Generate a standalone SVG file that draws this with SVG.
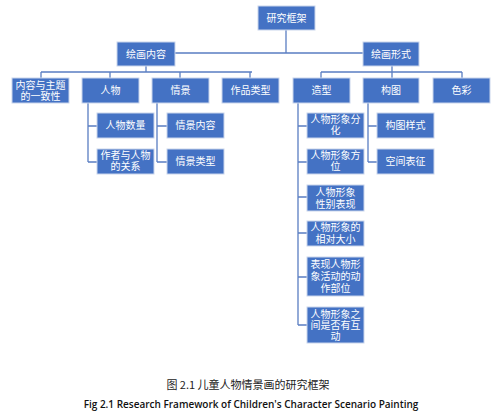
<svg xmlns="http://www.w3.org/2000/svg" width="503" height="417" viewBox="0 0 503 417">
<style>
.b{fill:#4472C4;stroke:#C9D5EC;stroke-width:1}
.t{fill:#fff;font-family:"Noto Sans CJK SC","Noto Sans CJK JP",serif;font-size:10px;text-anchor:middle}
.c{fill:none;stroke:#5A7EC2;stroke-width:1.3}
.cap{font-family:"Noto Sans CJK SC",serif;font-size:11px;fill:#222;text-anchor:middle}
.capE{font-family:"Open Sans","Liberation Sans",sans-serif;font-size:10px;fill:#111;text-anchor:middle;font-weight:600}
</style>
<rect width="503" height="417" fill="#fff"/>
<g id="connectors">
<path class="c" d="M286,30V53M175,53H363"/>
<path class="c" d="M146,66V72M41,72H252M41,72V78M110,72V78M180,72V78M250,72V78"/>
<path class="c" d="M392,66V72M321,72H462M321,72V78M392,72V78M462,72V78"/>
<path class="c" d="M88,103V162M88,126H97M88,162H97"/>
<path class="c" d="M157,103V162M157,126H167M157,162H167"/>
<path class="c" d="M298,103V325M298,126H307M298,162H307M298,197H307M298,233H307M298,277H307M298,325H307"/>
<path class="c" d="M368,103V162M368,126H377M368,162H377"/>
</g>
<g id="root"><rect class="b" x="258" y="6" width="57" height="24"/><text class="t" x="286.5" y="22">研究框架</text></g>
<g id="content"><rect class="b" x="117" y="42" width="58" height="24"/><text class="t" x="146" y="58">绘画内容</text></g>
<g id="form"><rect class="b" x="363" y="42" width="56" height="24"/><text class="t" x="391" y="58">绘画形式</text></g>
<g id="theme"><rect class="b" x="12" y="78" width="57" height="25"/><text class="t" x="40.5" y="89">内容与主题<tspan x="40.5" dy="11">的一致性</tspan></text></g>
<g id="person"><rect class="b" x="82" y="78" width="57" height="25"/><text class="t" x="110.5" y="94">人物</text></g>
<g id="scene"><rect class="b" x="152" y="78" width="57" height="25"/><text class="t" x="180.5" y="94">情景</text></g>
<g id="worktype"><rect class="b" x="222" y="78" width="57" height="25"/><text class="t" x="250.5" y="94">作品类型</text></g>
<g id="shape"><rect class="b" x="293" y="78" width="57" height="25"/><text class="t" x="321.5" y="94">造型</text></g>
<g id="comp"><rect class="b" x="363" y="78" width="56" height="25"/><text class="t" x="391" y="94">构图</text></g>
<g id="color"><rect class="b" x="433" y="78" width="57" height="25"/><text class="t" x="461.5" y="94">色彩</text></g>
<g id="pnum"><rect class="b" x="97" y="113" width="57" height="25"/><text class="t" x="125.5" y="129">人物数量</text></g>
<g id="prel"><rect class="b" x="97" y="149" width="57" height="25"/><text class="t" x="125.5" y="159">作者与人物<tspan x="125.5" dy="11">的关系</tspan></text></g>
<g id="scont"><rect class="b" x="167" y="113" width="57" height="25"/><text class="t" x="195.5" y="129">情景内容</text></g>
<g id="stype"><rect class="b" x="167" y="149" width="57" height="25"/><text class="t" x="195.5" y="165">情景类型</text></g>
<g id="s1"><rect class="b" x="307" y="113" width="57" height="25"/><text class="t" x="335.5" y="123">人物形象分<tspan x="335.5" dy="11">化</tspan></text></g>
<g id="s2"><rect class="b" x="307" y="149" width="57" height="25"/><text class="t" x="335.5" y="159">人物形象方<tspan x="335.5" dy="11">位</tspan></text></g>
<g id="s3"><rect class="b" x="307" y="185" width="57" height="26"/><text class="t" x="335.5" y="196">人物形象<tspan x="335.5" dy="12">性别表现</tspan></text></g>
<g id="s4"><rect class="b" x="307" y="221" width="57" height="25"/><text class="t" x="335.5" y="231">人物形象的<tspan x="335.5" dy="12">相对大小</tspan></text></g>
<g id="s5"><rect class="b" x="307" y="257" width="57" height="39"/><text class="t" x="335.5" y="268">表现人物形<tspan x="335.5" dy="12">象活动的动</tspan><tspan x="335.5" dy="12">作部位</tspan></text></g>
<g id="s6"><rect class="b" x="307" y="307" width="57" height="36"/><text class="t" x="335.5" y="318">人物形象之<tspan x="335.5" dy="11">间是否有互</tspan><tspan x="335.5" dy="11">动</tspan></text></g>
<g id="c1"><rect class="b" x="377" y="113" width="57" height="25"/><text class="t" x="405.5" y="129">构图样式</text></g>
<g id="c2"><rect class="b" x="377" y="149" width="57" height="25"/><text class="t" x="405.5" y="165">空间表征</text></g>
<text class="cap" x="248" y="389">图 2.1  儿童人物情景画的研究框架</text>
<text class="capE" x="251" y="408">Fig 2.1 Research Framework of Children's Character Scenario Painting</text>
</svg>
